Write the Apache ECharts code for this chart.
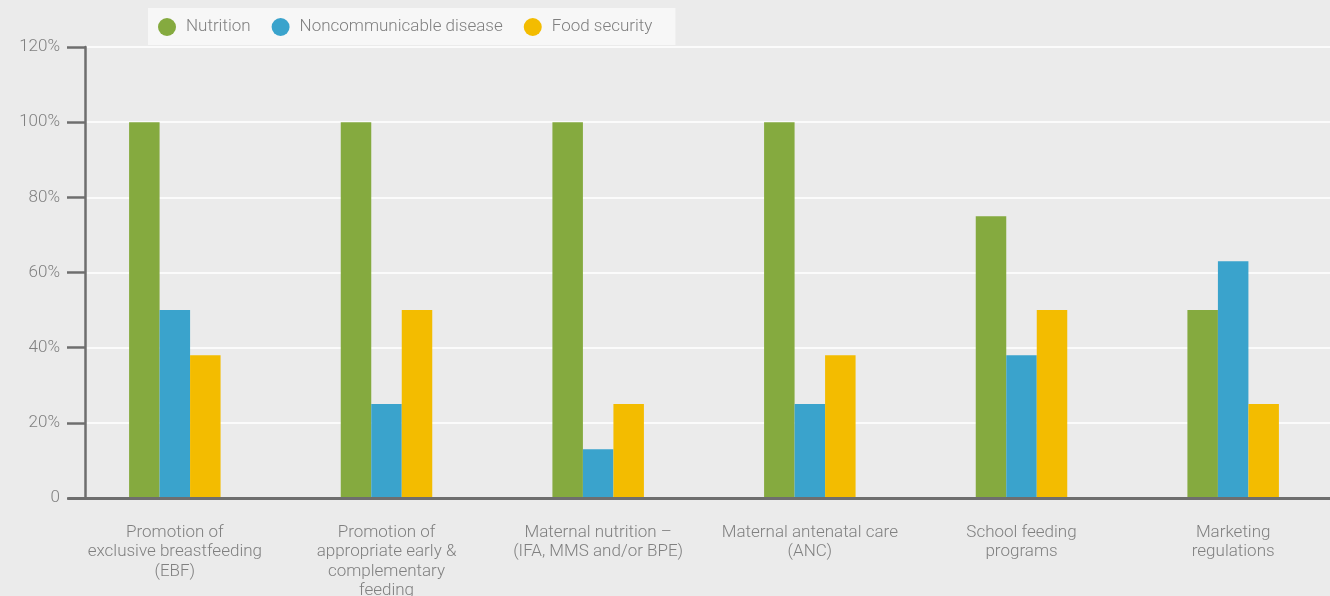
<!DOCTYPE html>
<html>
<head>
<meta charset="utf-8">
<script src="https://cdn.jsdelivr.net/npm/echarts@6/dist/echarts.min.js"></script>
<style>
  html, body { margin: 0; padding: 0; background: #ebebeb; }
  #chart { width: 1330px; height: 596px; }
</style>
</head>
<body>
<div id="chart"></div>
<script>
// Intervention categories shown along the x axis
const categories = [
  'Promotion of\nexclusive breastfeeding\n(EBF)',
  'Promotion of\nappropriate early &\ncomplementary\nfeeding',
  'Maternal nutrition –\n(IFA, MMS and/or BPE)',
  'Maternal antenatal care\n(ANC)',
  'School feeding\nprograms',
  'Marketing\nregulations'
];

// Share of policies (%) addressing each goal
const nutrition = [100, 100, 100, 100, 75, 50];
const noncommunicable = [50, 25, 13, 25, 38, 63];
const foodSecurity = [38, 50, 25, 38, 50, 25];

const seriesNames = ['Nutrition', 'Noncommunicable disease', 'Food security'];
const yTicks = [0, 20, 40, 60, 80, 100, 120];

const FONT = 'Roboto, "Noto Sans", sans-serif';
const TEXT = '#808080';
const AXIS = '#6e6e6e';
const COLORS = ['#85aa3f', '#3aa3cc', '#f3bc00'];

const chart = echarts.init(document.getElementById('chart'), null, { renderer: 'canvas' });

chart.setOption({
  backgroundColor: '#ebebeb',
  color: COLORS,
  textStyle: { fontFamily: FONT, fontWeight: 300 },
  legend: {
    data: seriesNames,
    left: 148,
    top: 8,
    backgroundColor: '#f7f7f7',
    padding: [10, 23, 9, 10],
    icon: 'circle',
    itemWidth: 18,
    itemHeight: 18,
    itemGap: 21,
    textStyle: { color: TEXT, fontSize: 17, fontWeight: 300, fontFamily: FONT, padding: [0, 0, 0, 5] }
  },
  grid: {
    left: 69, top: 47, height: 451, width: 1270,
    containLabel: false,
    outerBoundsMode: 'none'
  },
  xAxis: {
    type: 'category',
    data: categories,
    z: 5,
    axisLine: { lineStyle: { color: AXIS, width: 3 } },
    axisTick: { show: false },
    axisLabel: {
      color: TEXT,
      fontSize: 17,
      fontWeight: 300,
      fontFamily: FONT,
      lineHeight: 19.3,
      margin: 25,
      interval: 0
    }
  },
  yAxis: {
    type: 'value',
    min: yTicks[0],
    max: yTicks[yTicks.length - 1],
    interval: 20,
    offset: -16,
    axisLine: { show: true, lineStyle: { color: AXIS, width: 2.5 } },
    axisTick: { show: true, length: 18, lineStyle: { color: AXIS, width: 2.5 } },
    splitLine: { lineStyle: { color: '#fbfbfb', width: 2 } },
    axisLabel: {
      color: TEXT,
      fontSize: 17,
      fontWeight: 300,
      fontFamily: FONT,
      margin: 25,
      formatter: v => (v === 0 ? '0' : v + '%')
    }
  },
  series: [
    { name: seriesNames[0], type: 'bar', data: nutrition, barWidth: 30.5, barGap: '0%' },
    { name: seriesNames[1], type: 'bar', data: noncommunicable, barWidth: 30.5, barGap: '0%' },
    { name: seriesNames[2], type: 'bar', data: foodSecurity, barWidth: 30.5, barGap: '0%' }
  ]
});
</script>
</body>
</html>
